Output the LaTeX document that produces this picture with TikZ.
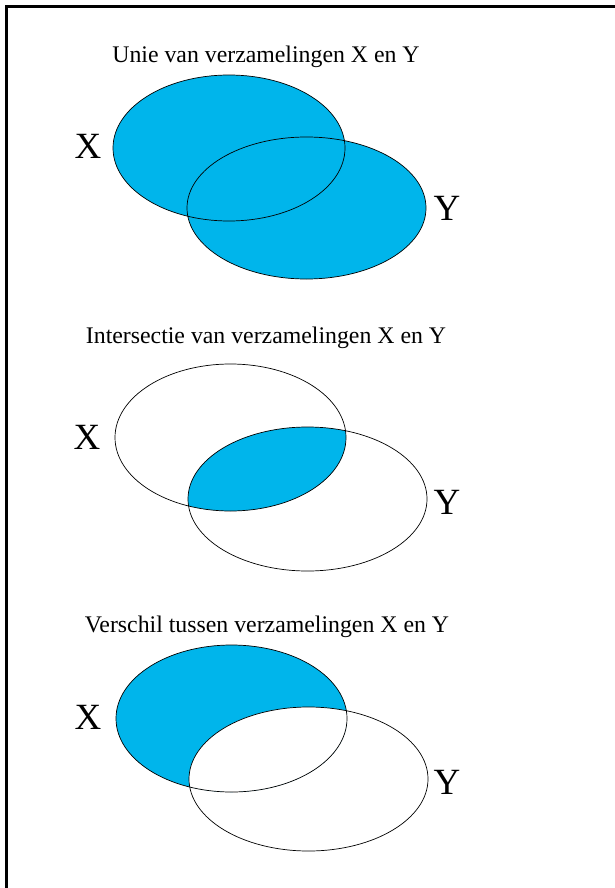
\documentclass[tikz,border=0pt]{standalone}
\usepackage{fontspec}
\setmainfont{Liberation Serif}
\usetikzlibrary{positioning}

\definecolor{setblue}{RGB}{0,181,235}

\tikzset{
  settitle/.style={font=\fontsize{23.8}{28}\selectfont, inner sep=0pt},
  setname/.style={font=\fontsize{37}{42}\selectfont, inner sep=0pt},
  setline/.style={draw=black, line width=0.7pt},
  setfill/.style={fill=setblue},
}

\begin{document}
\begin{tikzpicture}[x=1pt, y=-1pt]
\useasboundingbox (0,0) rectangle (615,888);

% frame (top and left edge only)
\fill (5,5) rectangle (615,8);
\fill (5,5) rectangle (8,888);

% Union of X and Y
\node[settitle] (titleU) at (266,57) {Unie van verzamelingen X en Y};
\fill[setfill] (229,148) ellipse [x radius=116pt, y radius=73pt];
\fill[setfill] (306.5,208) ellipse [x radius=119.5pt, y radius=71pt];
\draw[setline] (229,148) ellipse [x radius=116pt, y radius=73pt];
\draw[setline] (306.5,208) ellipse [x radius=119.5pt, y radius=71pt];
\node[setname] (xU) at (88,146) {X};
\node[setname] (yU) at (447,208) {Y};

% Intersection of X and Y
\node[settitle] (titleI) at (266,338) {Intersectie van verzamelingen X en Y};
\begin{scope}
  \clip (230.5,437.5) ellipse [x radius=115.5pt, y radius=73.5pt];
  \fill[setfill] (307.5,499) ellipse [x radius=119.5pt, y radius=72pt];
\end{scope}
\draw[setline] (230.5,437.5) ellipse [x radius=115.5pt, y radius=73.5pt];
\draw[setline] (307.5,499) ellipse [x radius=119.5pt, y radius=72pt];
\node[setname] (xI) at (87,437) {X};
\node[setname] (yI) at (447,502) {Y};

% Difference X minus Y
\node[settitle] (titleD) at (267,627) {Verschil tussen verzamelingen X en Y};
\fill[setfill] (231.5,718.5) ellipse [x radius=115.5pt, y radius=73.5pt];
\begin{scope}
  \clip (231.5,718.5) ellipse [x radius=115.5pt, y radius=73.5pt];
  \fill[white] (308.5,779) ellipse [x radius=119.5pt, y radius=72pt];
\end{scope}
\draw[setline] (231.5,718.5) ellipse [x radius=115.5pt, y radius=73.5pt];
\draw[setline] (308.5,779) ellipse [x radius=119.5pt, y radius=72pt];
\node[setname] (xD) at (88,717) {X};
\node[setname] (yD) at (447,782) {Y};
\end{tikzpicture}
\end{document}
